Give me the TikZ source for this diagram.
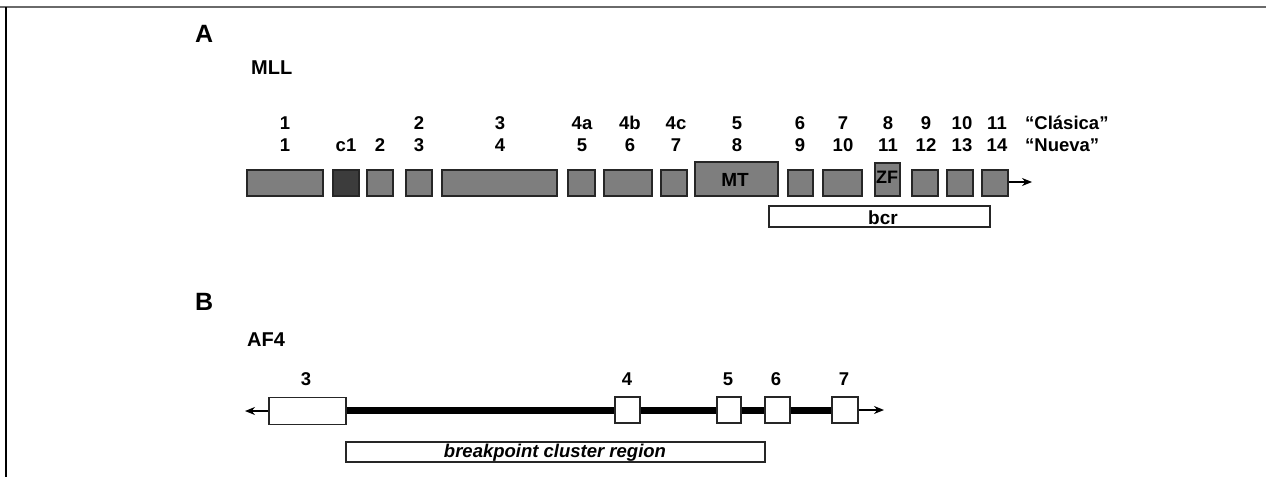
\documentclass[tikz,border=0pt]{standalone}
\usepackage{fontspec}
\setmainfont{Liberation Sans}
\usetikzlibrary{arrows.meta}
\definecolor{exongray}{HTML}{7E7E7E}
\definecolor{exondark}{HTML}{3C3C3C}
\definecolor{framegray}{HTML}{6A6A6A}
\tikzset{
  px/.style={x=1pt,y=-1pt},
  exon/.style={draw=black!85, line width=1.3pt, fill=exongray, inner sep=0pt, minimum height=26pt},
  wexon/.style={draw=black!85, line width=1.2pt, fill=white, inner sep=0pt, minimum height=26pt},
  region/.style={draw=black!85, line width=1.2pt, fill=white, inner sep=0pt, minimum height=21pt},
  num/.style={font=\fontsize{18.5}{20}\selectfont\bfseries, inner sep=0pt, anchor=base},
  panel/.style={font=\fontsize{25}{28}\selectfont\bfseries, inner sep=0pt, anchor=base west},
  gene/.style={font=\fontsize{20}{22}\selectfont\bfseries, inner sep=0pt, anchor=base west},
  intron/.style={line width=7pt, black},
  tss/.style={line width=1.3pt, -{Stealth[length=10pt,width=8pt]}},
}
\begin{document}
\begin{tikzpicture}[px]
\useasboundingbox (0,0) rectangle (1266,477);
% frame
\draw[framegray, line width=1.2pt] (0,7) -- (1266,7);
\draw[black, line width=1.6pt] (6,7) -- (6,477);

% ---------- panel A : MLL ----------
\node[panel] (lblA) at (195,42) {A};
\node[gene] (mll) at (251,74) {MLL};

% exon numbering, classic and new
\foreach \x/\c/\n [count=\i] in {285/1/1, 346//c1, 380//2, 419/2/3, 500/3/4, 582/4a/5, 630/4b/6, 676/4c/7,
    737/5/8, 800/6/9, 843/7/10, 888/8/11, 926/9/12, 962/10/13, 997/11/14}{
  \node[num] (cl\i) at (\x,129) {\c};
  \node[num] (nv\i) at (\x,151) {\n};
}
\node[num, anchor=base west] (clasica) at (1025,129) {“Clásica”};
\node[num, anchor=base west] (nueva) at (1025,151) {“Nueva”};

% exons
\node[exon, minimum width=76pt] (m1) at (285,183) {};
\node[exon, minimum width=26pt, fill=exondark] (mc1) at (346,183) {};
\node[exon, minimum width=26pt] (m2) at (380,183) {};
\node[exon, minimum width=26pt] (m3) at (419,183) {};
\node[exon, minimum width=115pt] (m4) at (499.5,183) {};
\node[exon, minimum width=27pt] (m5) at (581.5,183) {};
\node[exon, minimum width=48pt] (m6) at (628,183) {};
\node[exon, minimum width=26pt] (m7) at (674,183) {};
\node[exon, minimum width=83pt, minimum height=34pt] (m8) at (736.5,179) {};
\node[font=\fontsize{19}{21}\selectfont\bfseries] (mt) at (735,180) {MT};
\node[exon, minimum width=25pt] (m9) at (800.5,183) {};
\node[exon, minimum width=39pt] (m10) at (842.5,183) {};
\node[exon, minimum width=25pt, minimum height=33pt] (m11) at (887.5,179.5) {};
\node[font=\fontsize{18}{20}\selectfont\bfseries, inner sep=0pt] (zf) at (887,177) {ZF};
\node[exon, minimum width=26pt] (m12) at (925,183) {};
\node[exon, minimum width=26pt] (m13) at (960,183) {};
\node[exon, minimum width=26pt] (m14) at (995,183) {};
\coordinate (mend) at (1032,182);
\draw[tss] (m14.east |- mend) -- (mend);

% breakpoint cluster region
\node[region, minimum width=221pt, minimum height=21pt] (bcr) at (879.5,216.5) {};
\node[font=\fontsize{19}{21}\selectfont\bfseries, inner sep=0pt] (bcrlbl) at (883,218) {bcr};

% ---------- panel B : AF4 ----------
\node[panel] (lblB) at (195,310) {B};
\node[gene] (af4) at (247,346) {AF4};

\node[wexon, minimum width=77pt, minimum height=27pt] (a3) at (307.5,411) {};
\node[wexon, minimum width=25pt] (a4) at (627.5,410) {};
\node[wexon, minimum width=24pt] (a5) at (729,410) {};
\node[wexon, minimum width=25pt] (a6) at (777.5,410) {};
\node[wexon, minimum width=26pt] (a7) at (845,410) {};

% introns
\draw[intron] (a3.east |- a4.west) -- (a4.west);
\draw[intron] (a4) -- (a5);
\draw[intron] (a5) -- (a6);
\draw[intron] (a6) -- (a7);
\node[wexon, minimum width=25pt] at (a4) {};
\node[wexon, minimum width=24pt] at (a5) {};
\node[wexon, minimum width=25pt] at (a6) {};
\node[wexon, minimum width=26pt] at (a7) {};

% direction arrows
\coordinate (aleft) at (245,411);
\coordinate (aright) at (884,410);
\draw[tss] (a3.west) -- (aleft);
\draw[tss] (a7.east) -- (aright);

% exon labels
\node[num] (n3) at (306,385) {3};
\node[num] (n4) at (627,385) {4};
\node[num] (n5) at (728,385) {5};
\node[num] (n6) at (776,385) {6};
\node[num] (n7) at (844,385) {7};

% breakpoint cluster region
\node[region, minimum width=419pt, minimum height=20pt] (afbcr) at (555.5,452) {};
\node[font=\fontsize{18.5}{20}\selectfont\bfseries\itshape, inner sep=0pt] (afbcrlbl) at (555,453) {breakpoint cluster region};
\end{tikzpicture}
\end{document}
